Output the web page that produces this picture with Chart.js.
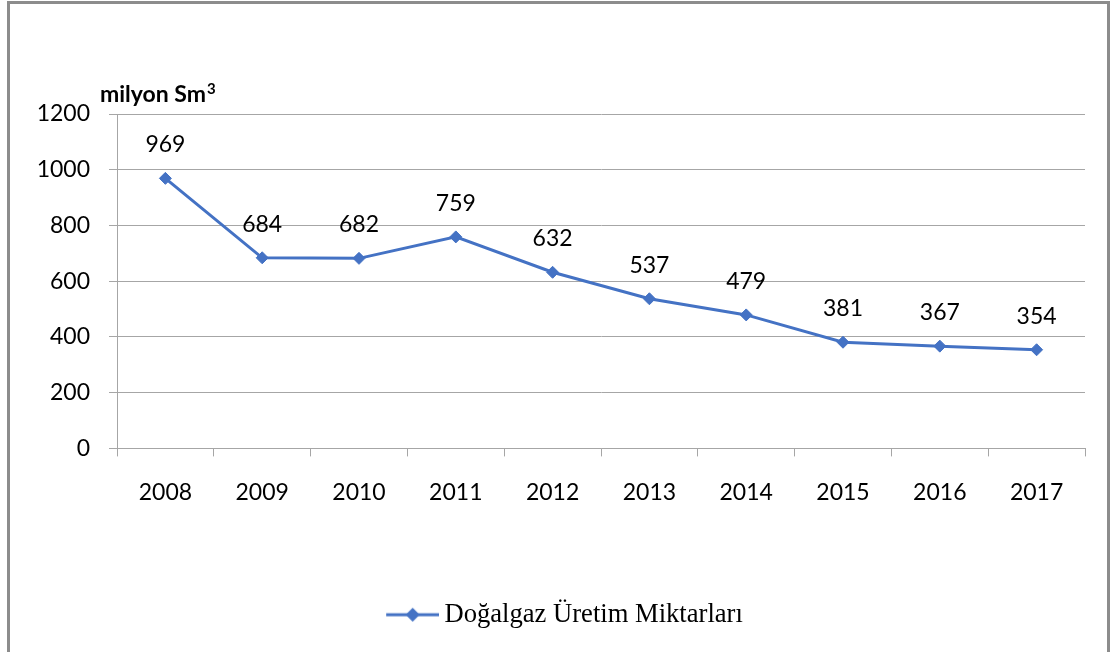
<!DOCTYPE html>
<html>
<head>
<meta charset="utf-8">
<script src="https://cdn.jsdelivr.net/npm/chart.js@4/dist/chart.umd.min.js"></script>
<style>
  html, body { margin: 0; padding: 0; background: #fff; overflow: hidden; }
  #frame {
    position: absolute; left: 7px; top: 1px; width: 1103px; height: 700px;
    border: 3px solid #8c8c8c; box-sizing: border-box;
  }
  #wrap { position: absolute; left: 0; top: 0; width: 1117px; height: 652px; }
</style>
</head>
<body>
<div id="frame"></div>
<div id="wrap"><canvas id="chart"></canvas></div>
<script>
// veriler
const years = ['2008', '2009', '2010', '2011', '2012', '2013', '2014', '2015', '2016', '2017'];
const production = [969, 684, 682, 759, 632, 537, 479, 381, 367, 354];
const seriesName = 'Doğalgaz Üretim Miktarları';
const unitText = 'milyon Sm';
const unitSup = '3';

const blue = '#4472C4';
const gridGray = '#a6a6a6';

// legend simgesi: çizgi + elmas (sol tarafı boş, metne yakın dursun diye)
function legendIcon() {
    const c = document.createElement('canvas');
    c.width = 105; c.height = 16;
    const g = c.getContext('2d');
    g.strokeStyle = blue;
    g.lineWidth = 3;
    g.beginPath();
    g.moveTo(52, 8); g.lineTo(105, 8);
    g.stroke();
    g.fillStyle = blue;
    g.beginPath();
    g.moveTo(78.5, 1); g.lineTo(85.5, 8); g.lineTo(78.5, 15); g.lineTo(71.5, 8);
    g.closePath();
    g.fill();
    return c;
}

// nokta değerlerini çizgi üstüne yaz
const valueLabels = {
    id: 'valueLabels',
    afterDatasetsDraw(chart) {
        const ctx = chart.ctx;
        const meta = chart.getDatasetMeta(0);
        ctx.save();
        ctx.font = '23px Lato';
        ctx.fillStyle = '#000';
        ctx.textAlign = 'center';
        ctx.textBaseline = 'alphabetic';
        meta.data.forEach((pt, i) => {
            ctx.fillText(String(production[i]), pt.x, pt.y - 26);
        });
        // eksen başlığı
        const x0 = chart.chartArea.left - 17;
        const y0 = chart.chartArea.top - 12;
        ctx.font = 'bold 23px Lato';
        ctx.textAlign = 'left';
        ctx.fillText(unitText, x0, y0);
        const w = ctx.measureText(unitText).width;
        ctx.font = 'bold 15px Lato';
        ctx.fillText(unitSup, x0 + w + 1, y0 - 8);
        ctx.restore();
    }
};

new Chart(document.getElementById('chart'), {
    type: 'line',
    data: {
        labels: years,
        datasets: [{
            label: seriesName,
            data: production,
            borderColor: blue,
            backgroundColor: blue,
            borderWidth: 3,
            pointStyle: 'rectRot',
            pointRadius: 6,
            pointBorderWidth: 1,
            tension: 0
        }]
    },
    options: {
        responsive: true,
        maintainAspectRatio: false,
        animation: false,
        layout: { padding: { left: 0, right: 32, top: 114, bottom: 14 } },
        plugins: {
            tooltip: { enabled: false },
            legend: {
                position: 'bottom',
                labels: {
                    usePointStyle: true,
                    pointStyle: legendIcon(),
                    pointStyleWidth: 89,
                    boxHeight: 16,
                    color: '#000',
                    padding: 30,
                    font: { family: 'Liberation Serif', size: 26.6 }
                }
            }
        },
        scales: {
            x: {
                offset: true,
                afterFit(scale) { scale.height = 123; },
                grid: {
                    offset: true,
                    drawOnChartArea: false,
                    color: gridGray,
                    tickLength: 8,
                    tickColor: gridGray
                },
                border: { color: gridGray, width: 1 },
                ticks: {
                    color: '#000',
                    padding: 22,
                    font: { family: 'Lato', size: 23 }
                }
            },
            y: {
                min: 0,
                max: 1200,
                afterFit(scale) { scale.width = 117; },
                grid: {
                    color: gridGray,
                    tickLength: 8,
                    tickColor: gridGray
                },
                border: { color: gridGray, width: 1 },
                ticks: {
                    stepSize: 200,
                    color: '#000',
                    padding: 19,
                    font: { family: 'Lato', size: 23 },
                    callback: v => String(v)
                }
            }
        }
    },
    plugins: [valueLabels]
});
</script>
</body>
</html>
